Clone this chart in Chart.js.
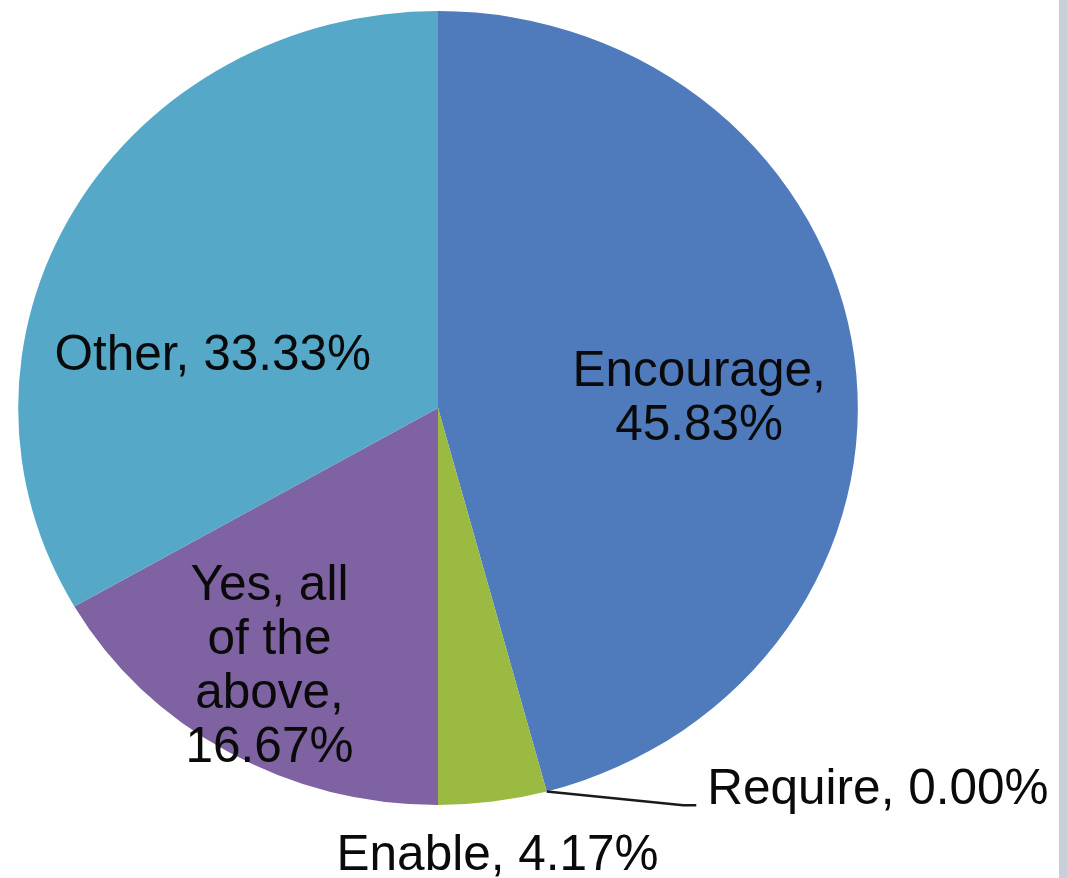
<!DOCTYPE html>
<html>
<head>
<meta charset="utf-8">
<script src="https://cdn.jsdelivr.net/npm/chart.js@4.4.1/dist/chart.umd.min.js"></script>
<style>
  html,body{margin:0;padding:0;background:#fff;}
  #wrap{position:relative;width:1067px;height:878px;overflow:hidden;}
  #bar{position:absolute;left:1059px;top:0;width:8px;height:878px;background:#c6d0d8;}
  canvas{position:absolute;left:0;top:0;}
</style>
</head>
<body>
<div id="wrap">
  <canvas id="c" width="1067" height="878"></canvas>
  <div id="bar"></div>
</div>
<script>
const categories = ["Encourage", "Require", "Enable", "Yes, all of the above", "Other"];
const values = [45.83, 0.00, 4.17, 16.67, 33.33];
const colors = ["#4f7bbd", "#4f7bbd", "#9bba41", "#7f62a1", "#55a8c7"];
const labelLines = [
  ["Encourage,", "45.83%"],
  ["Require, 0.00%"],
  ["Enable, 4.17%"],
  ["Yes, all", "of the", "above,", "16.67%"],
  ["Other, 33.33%"]
];

// the reference pie is slightly wider than tall
const SX = 1.029, SY = 0.973;

// label layout (fractions of radius from the pie centre)
const layout = [
  {fx: 0.640, fy: -0.022, align: "center"},
  {fx: 0.660, fy: 0.937, align: "left", leader: true},
  {fx: 0.146, fy: 1.100, align: "center"},
  {fx: -0.413, fy: 0.635, align: "center"},
  {fx: -0.552, fy: -0.126, align: "center"}
];

const stretchPlugin = {
  id: "stretch",
  beforeDatasetsDraw(chart) {
    const a = chart.getDatasetMeta(0).data[0];
    const ctx = chart.ctx;
    ctx.save();
    ctx.translate(a.x, a.y);
    ctx.scale(SX, SY);
    ctx.translate(-a.x, -a.y);
  },
  afterDatasetsDraw(chart) {
    chart.ctx.restore();
  }
};

const labelPlugin = {
  id: "pieLabels",
  afterDatasetsDraw(chart) {
    const ctx = chart.ctx;
    const meta = chart.getDatasetMeta(0);
    const arc0 = meta.data[0];
    const cx = arc0.x, cy = arc0.y, R = arc0.outerRadius;
    const lh = 54;
    ctx.save();
    ctx.font = "49.5px 'Liberation Sans', Arial, sans-serif";
    ctx.fillStyle = "#0a0a0a";
    ctx.textBaseline = "middle";
    meta.data.forEach((arc, i) => {
      const L = layout[i];
      const x = cx + L.fx * R;
      const y = cy + L.fy * R;
      const lines = labelLines[i];
      ctx.textAlign = L.align;
      const y0 = y - (lines.length - 1) * lh / 2;
      lines.forEach((t, k) => ctx.fillText(t, x, y0 + k * lh));
      if (L.leader) {
        const a = arc.startAngle;
        const px = cx + Math.cos(a) * R * SX;
        const py = cy + Math.sin(a) * R * SY;
        ctx.beginPath();
        ctx.strokeStyle = "#1a1a1a";
        ctx.lineWidth = 2.5;
        ctx.lineJoin = "round";
        ctx.moveTo(px, py);
        ctx.lineTo(x - 24, y + 15);
        ctx.lineTo(x - 11, y + 15);
        ctx.stroke();
      }
    });
    ctx.restore();
  }
};

new Chart(document.getElementById("c"), {
  type: "pie",
  data: {
    labels: categories,
    datasets: [{
      data: values,
      backgroundColor: colors,
      borderWidth: 0
    }]
  },
  options: {
    responsive: false,
    animation: false,
    events: [],
    layout: {padding: {left: 30, right: 221, top: 0, bottom: 62}},
    plugins: {legend: {display: false}, tooltip: {enabled: false}}
  },
  plugins: [stretchPlugin, labelPlugin]
});
</script>
</body>
</html>
